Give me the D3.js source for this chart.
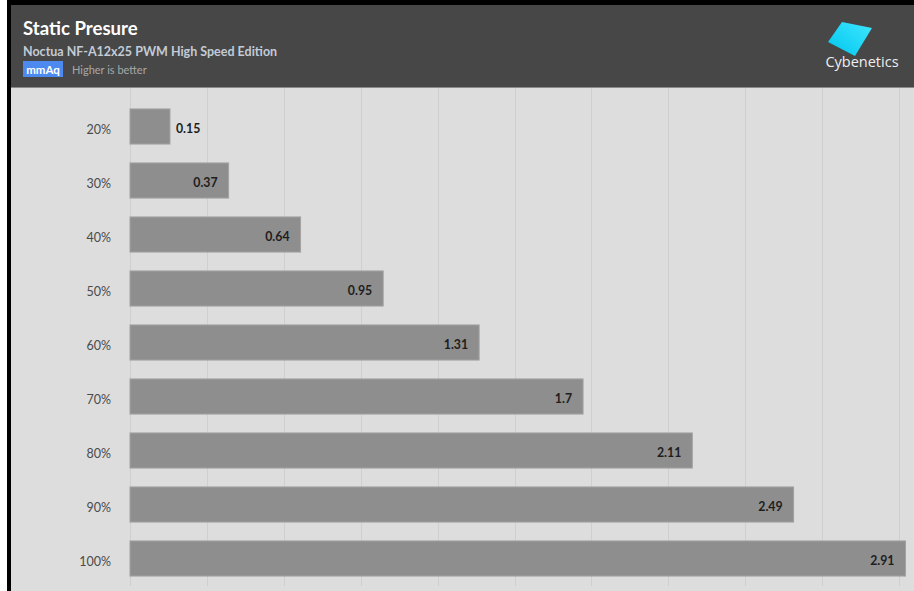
<!DOCTYPE html>
<html>
<head>
<meta charset="utf-8">
<script src="https://cdn.jsdelivr.net/npm/d3@7"></script>
<style>
  html, body { margin: 0; padding: 0; background: #ffffff; }
  svg { display: block; }
</style>
</head>
<body>
<svg id="chart" width="914" height="591"></svg>
<script>
// ---- data ----
const categories = ["20%", "30%", "40%", "50%", "60%", "70%", "80%", "90%", "100%"];
const values = [0.15, 0.37, 0.64, 0.95, 1.31, 1.7, 2.11, 2.49, 2.91];
const gridTicks = [0, 1, 2, 3, 4, 5, 6, 7, 8, 9, 10];
const title = "Static Presure";
const subtitle = "Noctua NF-A12x25 PWM High Speed Edition";
const unitLabel = "mmAq";
const noteLabel = "Higher is better";

const W = 914, H = 591;
const svg = d3.select("#chart");
const font = "Lato, 'Open Sans', sans-serif";

// frame
svg.append("rect").attr("x", 0).attr("y", 0).attr("width", W).attr("height", H).attr("fill", "#ffffff");
svg.append("rect").attr("x", 7).attr("y", 0).attr("width", W - 7).attr("height", H).attr("fill", "#000000");
// plot background
svg.append("rect").attr("x", 11).attr("y", 87).attr("width", W - 11).attr("height", H - 87).attr("fill", "#dddddd");
// header
svg.append("rect").attr("x", 11).attr("y", 5).attr("width", W - 11).attr("height", 82).attr("fill", "#474747");
svg.append("rect").attr("x", 11).attr("y", 87).attr("width", W - 11).attr("height", 1).attr("fill", "#8a8a8a");

// header texts
svg.append("text").attr("x", 23).attr("y", 35).text(title)
  .attr("font-family", font).attr("font-weight", 700).attr("font-size", 18.6).attr("fill", "#ffffff");
svg.append("text").attr("x", 23).attr("y", 55.5).text(subtitle)
  .attr("font-family", font).attr("font-weight", 700).attr("font-size", 12.5).attr("fill", "#c3cbd6");
svg.append("rect").attr("x", 23).attr("y", 61).attr("width", 40).attr("height", 16).attr("fill", "#4d8af0");
svg.append("text").attr("x", 43).attr("y", 73.5).attr("text-anchor", "middle").text(unitLabel)
  .attr("font-family", font).attr("font-weight", 700).attr("font-size", 11.5).attr("fill", "#ffffff");
svg.append("text").attr("x", 72).attr("y", 74).text(noteLabel)
  .attr("font-family", font).attr("font-size", 11).attr("fill", "#a8a8a8");

// logo
const grad = svg.append("defs").append("linearGradient").attr("id", "logoGrad")
  .attr("x1", "0%").attr("y1", "100%").attr("x2", "100%").attr("y2", "0%");
grad.append("stop").attr("offset", "0%").attr("stop-color", "#00c6ee");
grad.append("stop").attr("offset", "100%").attr("stop-color", "#3fe6ff");
svg.append("polygon").attr("points", "842,22 872,28 855,56 828,42").attr("fill", "url(#logoGrad)");
svg.append("text").attr("x", 862).attr("y", 67).attr("text-anchor", "middle").text("Cybenetics")
  .attr("font-family", "'Open Sans', sans-serif").attr("font-size", 14.5).attr("fill", "#eeeeee");

// scales
const x = d3.scaleLinear().domain([0, 3]).range([130, 929.5]);
const gx = d3.scaleLinear().domain([0, 10]).range([130, 899]);
const y = d3.scaleBand().domain(categories).range([99.5, 585.5]).paddingInner(0.35).paddingOuter(0.175);

// grid
svg.append("g").selectAll("line").data(gridTicks).join("line")
  .attr("x1", d => Math.round(gx(d)) + 0.5).attr("x2", d => Math.round(gx(d)) + 0.5)
  .attr("y1", 88).attr("y2", 586)
  .attr("stroke", "#cfcfcf").attr("stroke-width", 1);

// bars
svg.append("g").selectAll("rect").data(values).join("rect")
  .attr("x", x(0)).attr("y", (d, i) => y(categories[i]))
  .attr("width", d => x(d) - x(0)).attr("height", y.bandwidth())
  .attr("fill", "#8e8e8e").attr("stroke", "#a2a2a2").attr("stroke-width", 1);

// value labels
svg.append("g").selectAll("text").data(values).join("text")
  .attr("x", d => (x(d) - x(0) > 60 ? x(d) - 11 : x(d) + 6))
  .attr("text-anchor", d => (x(d) - x(0) > 60 ? "end" : "start"))
  .attr("y", (d, i) => y(categories[i]) + y.bandwidth() / 2 + 6)
  .text(d => d)
  .attr("font-family", font).attr("font-weight", 700).attr("font-size", 12.3).attr("fill", "#1e1e1e");

// category labels
svg.append("g").selectAll("text").data(categories).join("text")
  .attr("x", 111).attr("text-anchor", "end")
  .attr("y", d => y(d) + y.bandwidth() / 2 + 7)
  .text(d => d)
  .attr("font-family", font).attr("font-size", 12.5).attr("fill", "#4a4a4a");
</script>
</body>
</html>
